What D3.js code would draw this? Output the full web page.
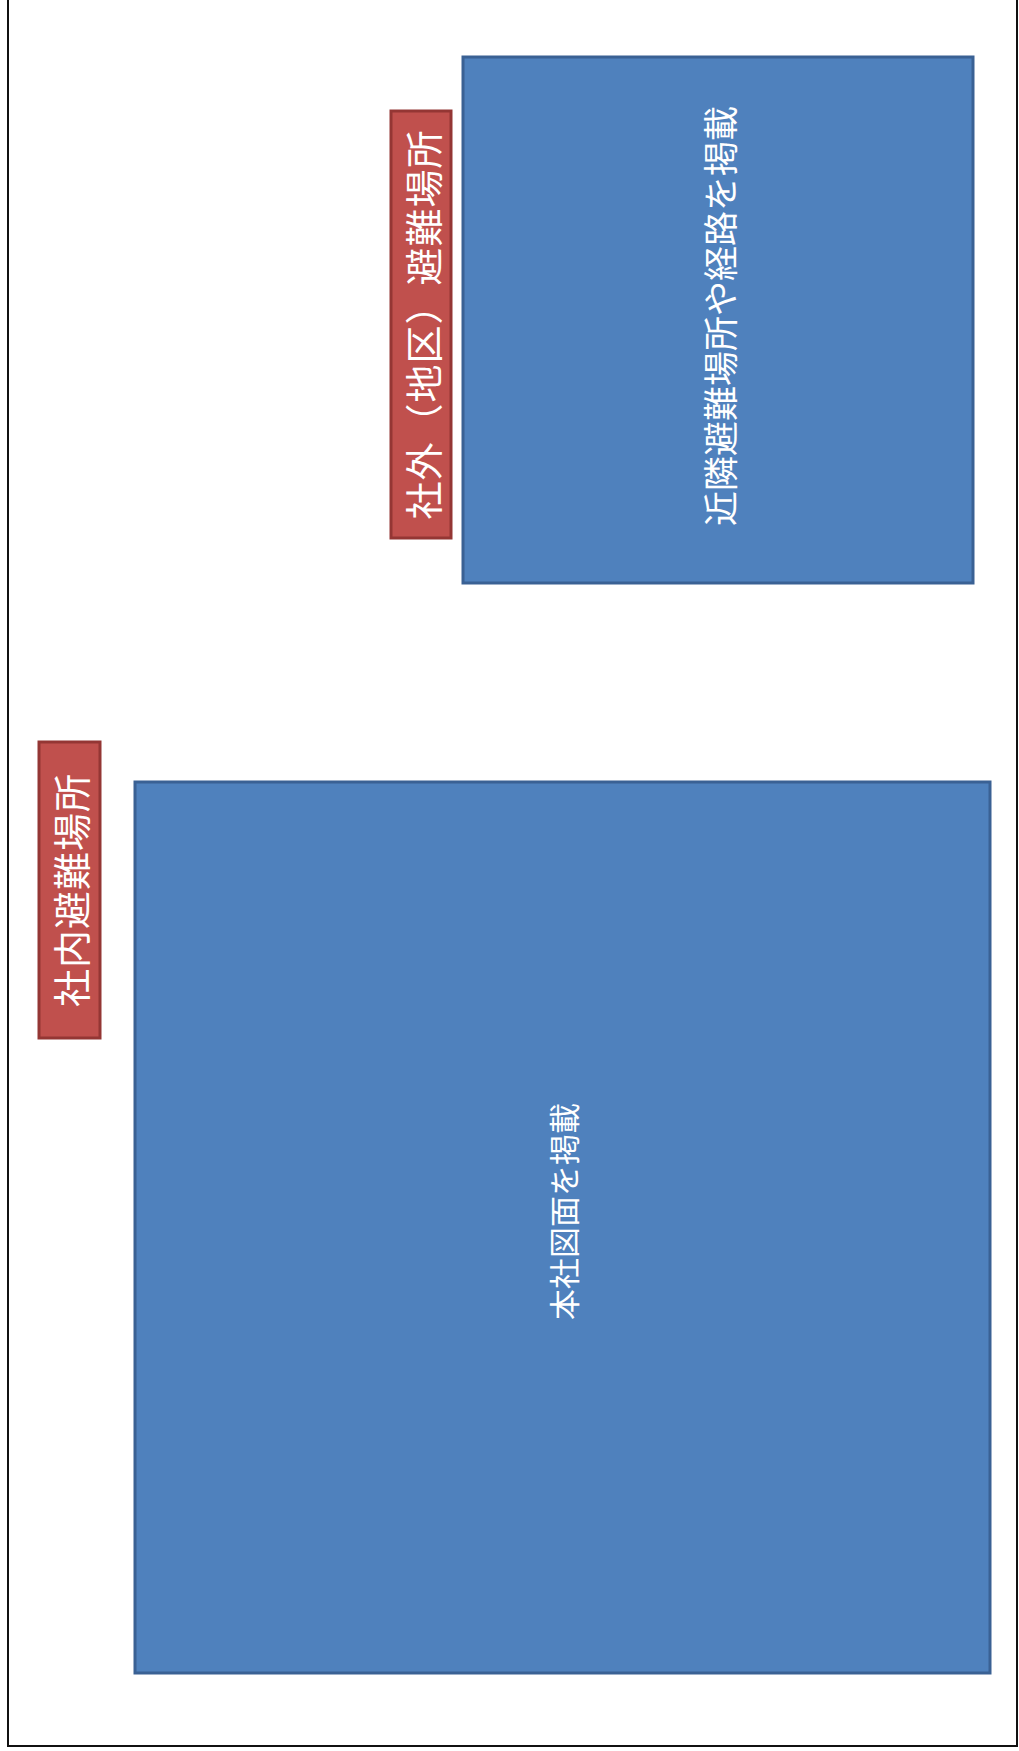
<!DOCTYPE html>
<html>
<head>
<meta charset="utf-8">
<script src="https://cdn.jsdelivr.net/npm/d3@7"></script>
<style>
  html, body { margin: 0; padding: 0; background: #fff; }
  svg { display: block; }
  text { font-family: "Noto Sans CJK JP", "Noto Sans", sans-serif; fill: #fff; }
</style>
</head>
<body>
<div id="wrapper"></div>
<script>
// areas shown on the sheet (page units = px of the 1019x1751 scan)
const areaNames = ["社内", "社外"];
const areaX = [[135, 990], [463, 973]];
const areaY = [[782, 1673], [57, 583]];
const areaTexts = ["本社図面を掲載", "近隣避難場所や経路を掲載"];

// the red title tags next to each area
const tagTexts = ["社内避難場所", "社外（地区）避難場所"];
const tagX = [[39, 100], [391, 451]];
const tagY = [[742, 1038], [111, 538]];

function draw() {
  //* Step 1. dimensions
  const dimensions = { width: 1019, height: 1751 };

  //* Step 2. canvas
  const wrapper = d3
    .select("#wrapper")
    .append("svg")
    .attr("width", dimensions.width)
    .attr("height", dimensions.height);

  //* Step 3. scales (page units -> pixels)
  const xScale = d3.scaleLinear().domain([0, 1019]).range([0, dimensions.width]);
  const yScale = d3.scaleLinear().domain([0, 1751]).range([0, dimensions.height]);

  // page frame (left, bottom, right; top is cut off in the scan)
  wrapper
    .append("path")
    .attr(
      "d",
      `M${xScale(8)},${yScale(0)}V${yScale(1746)}H${xScale(1017)}V${yScale(0)}`
    )
    .attr("fill", "none")
    .attr("stroke", "#111")
    .attr("stroke-width", 2);

  const areas = areaNames.map((name, i) => ({
    name,
    x: areaX[i],
    y: areaY[i],
    text: areaTexts[i],
  }));
  const tags = tagTexts.map((text, i) => ({ text, x: tagX[i], y: tagY[i] }));

  //* Step 4. blue areas
  const areaGroups = wrapper
    .selectAll(".area")
    .data(areas)
    .join("g")
    .attr("class", "area");

  areaGroups
    .append("rect")
    .attr("x", (d) => xScale(d.x[0]))
    .attr("y", (d) => yScale(d.y[0]))
    .attr("width", (d) => xScale(d.x[1]) - xScale(d.x[0]))
    .attr("height", (d) => yScale(d.y[1]) - yScale(d.y[0]))
    .attr("fill", "#4f81bd")
    .attr("stroke", "#3a6194")
    .attr("stroke-width", 3);

  //? the sheet's text sits a little above the middle of the big area
  const textFontSize = (d, i) => (i === 0 ? "31px" : "35px");
  const textShift = (d, i) => (i === 0 ? -16 : -4);

  areaGroups
    .append("text")
    .attr(
      "transform",
      (d, i) =>
        `translate(${(xScale(d.x[0]) + xScale(d.x[1])) / 2},${
          (yScale(d.y[0]) + yScale(d.y[1])) / 2 + textShift(d, i)
        }) rotate(-90)`
    )
    .attr("text-anchor", "middle")
    .attr("dominant-baseline", "central")
    .style("font-size", textFontSize)
    .text((d) => d.text);

  //* Step 5. red tags
  const tagGroups = wrapper
    .selectAll(".tag")
    .data(tags)
    .join("g")
    .attr("class", "tag");

  tagGroups
    .append("rect")
    .attr("x", (d) => xScale(d.x[0]))
    .attr("y", (d) => yScale(d.y[0]))
    .attr("width", (d) => xScale(d.x[1]) - xScale(d.x[0]))
    .attr("height", (d) => yScale(d.y[1]) - yScale(d.y[0]))
    .attr("fill", "#c0504d")
    .attr("stroke", "#943634")
    .attr("stroke-width", 3);

  tagGroups
    .append("text")
    .attr(
      "transform",
      (d) =>
        `translate(${(xScale(d.x[0]) + xScale(d.x[1])) / 2},${
          (yScale(d.y[0]) + yScale(d.y[1])) / 2
        }) rotate(-90)`
    )
    .attr("text-anchor", "middle")
    .attr("dominant-baseline", "central")
    .style("font-size", "38px")
    .style("letter-spacing", "1px")
    .text((d) => d.text);
}
draw();
</script>
</body>
</html>
